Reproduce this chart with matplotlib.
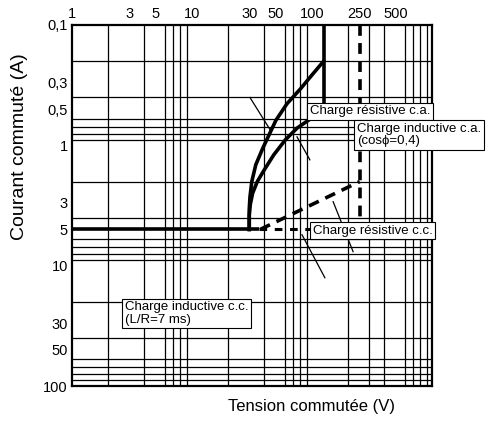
import matplotlib
matplotlib.use("Agg")
import matplotlib.pyplot as plt
from matplotlib.ticker import FixedLocator, NullFormatter

plt.rcParams['font.family'] = ['Liberation Sans', 'DejaVu Sans']

# Tick values and their French labels
x_ticks = [1, 3, 5, 10, 30, 50, 100, 250, 500]
x_tick_labels = ["1", "3", "5", "10", "30", "50", "100", "250", "500"]
y_ticks = [0.1, 0.3, 0.5, 1, 3, 5, 10, 30, 50, 100]
y_tick_labels = ["0,1", "0,3", "0,5", "1", "3", "5", "10", "30", "50", "100"]

# Switching limits (voltage V, current A)
common_v = [1, 36]
common_i = [5, 5]
ac_res_v = [30, 30, 30.4, 31.5, 34, 39, 50, 62, 80, 100, 125]
ac_res_i = [5, 3.4, 2.7, 2.0, 1.45, 1.05, 0.62, 0.45, 0.34, 0.26, 0.2]
ac_ind_v = [30, 30, 30.6, 32, 35, 40, 48, 60, 75, 100, 125]
ac_ind_i = [5, 3.8, 3.1, 2.5, 2.0, 1.6, 1.2, 0.9, 0.72, 0.59, 0.5]
ac_limit_v = [125, 125]
ac_limit_i = [0.1, 0.5]
dc_res_v = [37, 250]
dc_res_i = [5, 2]
dc_limit_v = [250, 250]
dc_limit_i = [0.1, 5]
dc_ind_v = [36, 250]
dc_ind_i = [5, 5]

# Leader lines from the labels to the curves
pointers = [
    ([30.4, 44.7], [0.40, 0.74]),
    ([75, 96], [0.85, 1.32]),
    ([150, 220], [2.94, 7.65]),
    ([82.5, 128], [5.53, 12.6]),
]

fig = plt.figure(figsize=(4.96, 4.21), dpi=100)
ax = fig.add_axes([72 / 496, 1 - 386 / 421, 360 / 496, 361 / 421])
ax.set_xscale('log')
ax.set_yscale('log')
ax.set_xlim(1, 1000)
ax.set_ylim(100, 0.1)

# Grid at every 1..9 step of each decade
x_grid = [m * 10 ** d for d in range(0, 3) for m in range(1, 10)][1:]
y_grid = [m * 10.0 ** d for d in range(-1, 2) for m in range(1, 10)][1:]
ax.xaxis.set_minor_locator(FixedLocator(x_grid))
ax.yaxis.set_minor_locator(FixedLocator(y_grid))
ax.xaxis.set_minor_formatter(NullFormatter())
ax.yaxis.set_minor_formatter(NullFormatter())
ax.grid(which='minor', color='black', lw=0.9)
ax.grid(which='major', visible=False)

ax.set_xticks(x_ticks)
ax.set_xticklabels(x_tick_labels)
ax.set_yticks(y_ticks)
ax.set_yticklabels(y_tick_labels)
ax.xaxis.tick_top()
ax.tick_params(which='both', length=0, labelsize=10.5, pad=3)
for s in ax.spines.values():
    s.set_linewidth(1.6)

# Limit curves
ax.plot(common_v, common_i, color='black', lw=2.6, solid_capstyle='butt')
ax.plot(ac_res_v, ac_res_i, color='black', lw=2.6)
ax.plot(ac_ind_v, ac_ind_i, color='black', lw=2.6)
ax.plot(ac_limit_v, ac_limit_i, color='black', lw=2.6)
ax.plot(dc_ind_v, dc_ind_i, color='black', lw=2.2, dashes=(2.5, 2.5))
ax.plot(dc_res_v, dc_res_i, color='black', lw=2.6, dashes=(3, 2))
ax.plot(dc_limit_v, dc_limit_i, color='black', lw=2.6, dashes=(3, 2))

for pv, pi in pointers:
    ax.plot(pv, pi, color='black', lw=0.9)

box = dict(boxstyle='square,pad=0.2', fc='white', ec='black', lw=0.8)
ax.text(96, 0.52, "Charge résistive c.a.", fontsize=9.5, ha='left', va='center', bbox=box)
ax.text(237, 0.82, "Charge inductive c.a.\n(cos\u03d5=0,4)", fontsize=9.5, ha='left', va='center',
        bbox=box, linespacing=1.05)
ax.text(102, 5.13, "Charge résistive c.c.", fontsize=9.5, ha='left', va='center', bbox=box)
ax.text(2.76, 25, "Charge inductive c.c.\n(L/R=7 ms)", fontsize=9.5, ha='left', va='center',
        bbox=box, linespacing=1.05)

fig.text(20 / 496, 1 - 147 / 421, "Courant commuté (A)", rotation=90, fontsize=14,
         ha='center', va='center')
fig.text(312 / 496, 1 - 406 / 421, "Tension commutée (V)", fontsize=12,
         ha='center', va='center')

fig.savefig("out.png", dpi=100)
